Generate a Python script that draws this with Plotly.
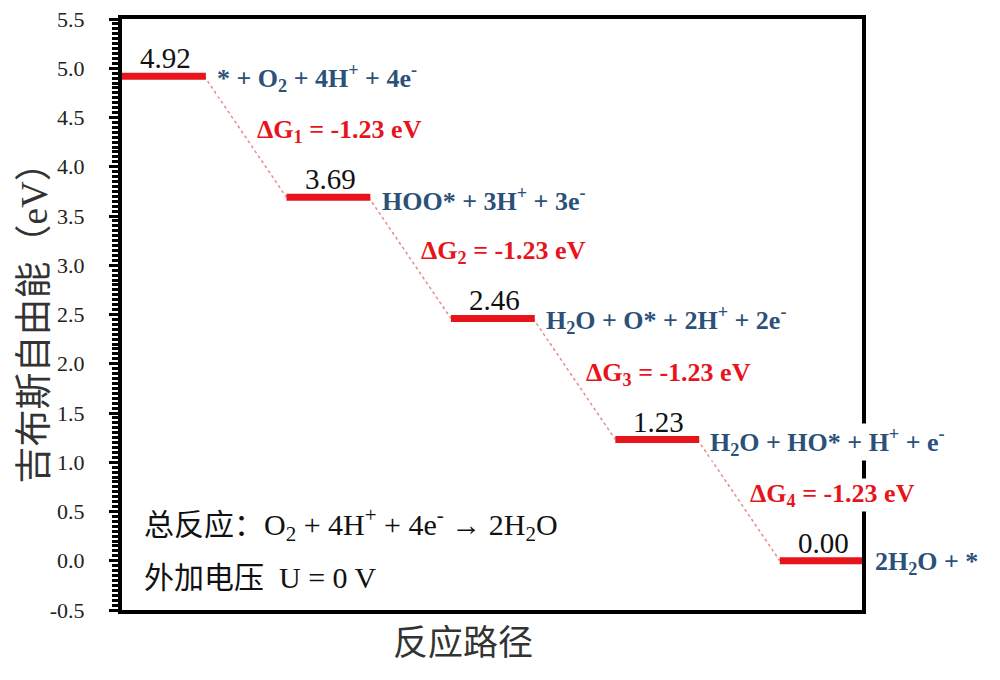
import plotly.graph_objects as go

# free energy levels along the ORR pathway (eV)
energies = [4.92, 3.69, 2.46, 1.23, 0.00]
energy_text = ["4.92", "3.69", "2.46", "1.23", "0.00"]
species = [
    "* + O<sub>2</sub> + 4H<sup>+</sup> + 4e<sup>-</sup>",
    "HOO* + 3H<sup>+</sup> + 3e<sup>-</sup>",
    "H<sub>2</sub>O + O* + 2H<sup>+</sup> + 2e<sup>-</sup>",
    "H<sub>2</sub>O + HO* + H<sup>+</sup> + e<sup>-</sup>",
    "2H<sub>2</sub>O + *",
]
dg_labels = [
    "ΔG<sub>1</sub> = -1.23 eV",
    "ΔG<sub>2</sub> = -1.23 eV",
    "ΔG<sub>3</sub> = -1.23 eV",
    "ΔG<sub>4</sub> = -1.23 eV",
]
note_lines = [
    "总反应：O<sub>2</sub> + 4H<sup>+</sup> + 4e<sup>-</sup> → 2H<sub>2</sub>O",
    "外加电压  U = 0 V",
]
note_y = [0.37, -0.17]
y_ticks = [-0.5, 0.0, 0.5, 1.0, 1.5, 2.0, 2.5, 3.0, 3.5, 4.0, 4.5, 5.0, 5.5]
y_tick_text = ["-0.5", "0.0", "0.5", "1.0", "1.5", "2.0", "2.5",
               "3.0", "3.5", "4.0", "4.5", "5.0", "5.5"]

SERIF = "Liberation Serif, Noto Sans CJK SC"
RED = "#e8141b"
BLUE = "#2b5178"

fig = go.Figure()

# dotted connectors between consecutive levels
for i in range(len(energies) - 1):
    fig.add_trace(go.Scatter(
        x=[2 * i + 1, 2 * i + 2], y=[energies[i], energies[i + 1]],
        mode="lines", line=dict(color="#e98a8a", width=1.5, dash="dot"),
        hoverinfo="skip", showlegend=False,
    ))

# energy levels
for i, e in enumerate(energies):
    fig.add_trace(go.Scatter(
        x=[2 * i, 2 * i + 1.02], y=[e, e],
        mode="lines", line=dict(color=RED, width=7),
        showlegend=False,
    ))
    fig.add_annotation(x=2 * i + 0.53, y=e, text=energy_text[i], showarrow=False,
                       yanchor="bottom", yshift=0,
                       font=dict(family=SERIF, size=29, color="#111"))
    # label sits just right of the level; anchor kept inside the x range
    fig.add_annotation(x=2 * i + 0.999, y=e, xshift=12, text="<b>" + species[i] + "</b>",
                       showarrow=False, xanchor="left", yanchor="middle", yshift=-2,
                       bgcolor="white", borderpad=0,
                       font=dict(family=SERIF, size=26, color=BLUE))

for i, lab in enumerate(dg_labels):
    fig.add_annotation(x=2 * i + 1.63, y=energies[i] - 0.56, text="<b>" + lab + "</b>",
                       showarrow=False, xanchor="left", yanchor="middle",
                       bgcolor="white", borderpad=0,
                       font=dict(family=SERIF, size=26, color=RED))

for line, yv in zip(note_lines, note_y):
    fig.add_annotation(x=0.24, y=yv, text=line, showarrow=False,
                       xanchor="left", yanchor="middle",
                       font=dict(family=SERIF, size=30, color="#111"))

# axis titles
fig.add_annotation(xref="paper", yref="paper", x=0.461, y=0, yshift=-33,
                   text="反应路径", showarrow=False, xanchor="center", yanchor="middle",
                   font=dict(family=SERIF, size=35, color="#333"))
fig.add_annotation(xref="paper", yref="paper", x=0, y=0.5, xshift=-88,
                   text="吉布斯自由能（eV）", textangle=-90, showarrow=False,
                   xanchor="center", yanchor="middle",
                   font=dict(family=SERIF, size=37, color="#333"))

fig.update_layout(
    width=984, height=664,
    margin=dict(l=114, r=130, t=11, b=62),
    paper_bgcolor="white", plot_bgcolor="white",
    font=dict(family=SERIF, color="#111"),
)
fig.update_xaxes(
    range=[0, 9], showgrid=False, zeroline=False, showticklabels=False, ticks="",
    showline=True, linecolor="black", linewidth=4, mirror=True, automargin=False,
)
fig.update_yaxes(
    range=[-0.5, 5.5], tickvals=y_ticks, ticktext=y_tick_text,
    showgrid=False, zeroline=False,
    showline=True, linecolor="black", linewidth=4, mirror=True, automargin=False,
    ticks="outside", ticklen=9, tickwidth=3, tickcolor="black",
    ticklabelstandoff=20, ticklabeloverflow="allow",
    minor=dict(dtick=0.05, ticks="outside", ticklen=6, tickwidth=2.5, tickcolor="black"),
    tickfont=dict(family=SERIF, size=22, color="#222"),
)

fig.write_html("out.html")
